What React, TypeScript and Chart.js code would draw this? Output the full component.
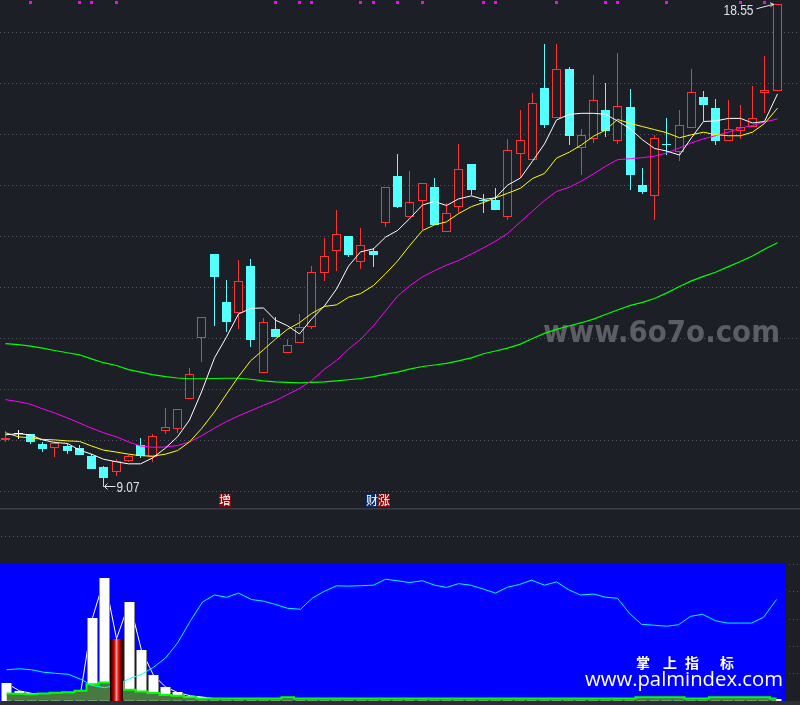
import React, { useEffect, useRef } from 'react';
import { Chart, registerables, LinearScale } from 'chart.js';

// Linear scales that snap pixels so 1px candle borders and wicks stay crisp.
class SnapXScale extends LinearScale {
  getPixelForValue(value: number) {
    const p = super.getPixelForValue(value);
    return Number.isFinite(p) ? Math.floor(p) + 0.5 : p;
  }
}
(SnapXScale as any).id = 'snapX';
(SnapXScale as any).defaults = (LinearScale as any).defaults;

class SnapYScale extends LinearScale {
  getPixelForValue(value: number) {
    const p = super.getPixelForValue(value);
    return Number.isFinite(p) ? Math.round(p) : p;
  }
}
(SnapYScale as any).id = 'snapY';
(SnapYScale as any).defaults = (LinearScale as any).defaults;

Chart.register(...registerables, SnapXScale as any, SnapYScale as any);

// ---------------- price panel (K-line) ----------------
const opens = [9.99, 10.12, 10.12, 9.92, 9.85, 9.88, 9.84, 9.68, 9.47, 9.36, 9.59, 9.90, 9.67, 10.18, 10.21, 10.80, 11.99, 13.65, 12.71, 12.50, 13.41, 11.32, 12.18, 11.71, 11.90, 12.21, 13.27, 13.70, 14.00, 13.49, 13.71, 14.25, 15.18, 14.37, 14.69, 14.96, 14.09, 14.58, 15.42, 14.71, 14.71, 14.38, 15.61, 15.50, 16.91, 16.31, 17.28, 15.72, 15.91, 16.48, 15.87, 16.53, 15.00, 14.79, 15.80, 15.66, 16.12, 16.73, 16.51, 15.86, 16.06, 16.15, 16.80, 16.84];
const highs = [10.17, 10.19, 10.12, 9.95, 9.98, 9.92, 9.90, 9.72, 9.49, 9.63, 9.71, 10.03, 10.12, 10.62, 10.60, 11.41, 12.41, 13.65, 13.14, 13.53, 13.55, 12.39, 12.41, 11.98, 12.47, 13.41, 13.96, 14.51, 14.00, 14.15, 13.76, 14.96, 15.61, 15.28, 15.04, 15.15, 14.64, 15.81, 15.42, 14.82, 14.94, 15.91, 16.48, 16.81, 17.77, 17.78, 17.31, 16.10, 17.16, 17.00, 17.59, 16.89, 15.34, 15.98, 16.32, 16.48, 17.28, 16.85, 16.69, 16.67, 16.57, 16.94, 17.54, 18.55];
const lows = [9.95, 10.01, 9.92, 9.77, 9.67, 9.72, 9.70, 9.43, 9.07, 9.30, 9.57, 9.64, 9.57, 10.12, 10.13, 10.80, 11.52, 12.24, 12.12, 12.17, 11.83, 11.32, 12.01, 11.70, 11.90, 12.17, 13.12, 13.32, 13.58, 13.36, 13.39, 14.17, 14.55, 14.37, 14.12, 14.22, 14.09, 14.46, 14.81, 14.45, 14.51, 14.32, 15.15, 15.50, 16.13, 16.31, 15.79, 15.20, 15.83, 15.95, 15.81, 14.91, 14.83, 14.32, 15.59, 15.48, 16.12, 16.25, 15.79, 15.86, 15.90, 16.15, 16.42, 16.84];
const closes = [10.03, 10.12, 9.95, 9.83, 9.93, 9.78, 9.70, 9.43, 9.26, 9.59, 9.68, 9.68, 10.08, 10.25, 10.60, 11.29, 12.41, 13.20, 12.32, 13.11, 11.97, 12.31, 12.01, 11.86, 12.21, 13.29, 13.60, 14.04, 13.62, 13.82, 13.62, 14.96, 14.58, 14.66, 15.04, 14.22, 14.45, 15.31, 14.91, 14.69, 14.51, 15.69, 15.89, 16.61, 16.18, 17.27, 15.96, 15.98, 16.67, 16.07, 16.55, 15.19, 14.87, 15.92, 15.78, 16.19, 16.82, 16.58, 15.87, 16.10, 16.14, 16.31, 16.86, 18.55];

const ma5 = [10.10, 10.12, 10.10, 10.00, 9.95, 9.93, 9.80, 9.72, 9.62, 9.57, 9.53, 9.53, 9.645, 9.84, 10.06, 10.39, 10.94, 11.61, 12.02, 12.47, 12.58, 12.59, 12.35, 12.24, 12.08, 12.37, 12.63, 12.96, 13.41, 13.69, 13.75, 13.98, 14.11, 14.34, 14.61, 14.68, 14.60, 14.73, 14.79, 14.72, 14.75, 15.00, 15.14, 15.47, 15.81, 16.28, 16.39, 16.41, 16.41, 16.39, 16.26, 16.10, 15.89, 15.72, 15.67, 15.59, 15.93, 16.25, 16.26, 16.31, 16.31, 16.22, 16.25, 16.79];
const ma10 = [10.14, 10.06, 10.04, 10.01, 10.00, 9.98, 9.97, 9.88, 9.80, 9.76, 9.72, 9.69, 9.68, 9.72, 9.79, 9.96, 10.22, 10.55, 10.90, 11.24, 11.55, 11.77, 11.98, 12.17, 12.30, 12.48, 12.62, 12.65, 12.80, 12.87, 13.03, 13.26, 13.51, 13.81, 14.11, 14.22, 14.28, 14.44, 14.58, 14.66, 14.75, 14.84, 14.94, 15.13, 15.23, 15.53, 15.65, 15.79, 15.96, 16.08, 16.29, 16.21, 16.15, 16.09, 16.03, 15.93, 15.99, 16.04, 15.99, 15.97, 15.97, 16.04, 16.21, 16.51];
const ma20 = [10.79, 10.75, 10.70, 10.61, 10.53, 10.43, 10.33, 10.23, 10.14, 10.06, 9.96, 9.88, 9.855, 9.86, 9.89, 9.96, 10.08, 10.23, 10.36, 10.47, 10.57, 10.68, 10.77, 10.89, 11.01, 11.16, 11.39, 11.56, 11.78, 11.97, 12.24, 12.53, 12.82, 13.02, 13.20, 13.32, 13.43, 13.52, 13.65, 13.77, 13.90, 14.05, 14.28, 14.49, 14.70, 14.875, 14.96, 15.08, 15.22, 15.37, 15.50, 15.52, 15.54, 15.57, 15.63, 15.73, 15.83, 15.91, 15.97, 16.04, 16.12, 16.17, 16.24, 16.30];
const ma60 = [11.89, 11.87, 11.84, 11.80, 11.755, 11.71, 11.67, 11.59, 11.515, 11.46, 11.38, 11.33, 11.28, 11.24, 11.215, 11.20, 11.20, 11.205, 11.21, 11.21, 11.19, 11.16, 11.14, 11.13, 11.12, 11.13, 11.14, 11.16, 11.18, 11.205, 11.24, 11.29, 11.33, 11.39, 11.44, 11.47, 11.50, 11.55, 11.61, 11.69, 11.745, 11.80, 11.88, 11.99, 12.09, 12.17, 12.24, 12.30, 12.37, 12.46, 12.55, 12.64, 12.70, 12.775, 12.88, 13.01, 13.12, 13.21, 13.29, 13.40, 13.50, 13.61, 13.74, 13.87];

const priceGridTicks = [9, 10, 11, 12, 13, 14, 15, 16, 17, 18];
const signalDots = [2, 6, 7, 9, 22, 24, 25, 29, 30, 32, 34, 39, 40, 45, 49, 50, 54, 60, 62];
const signalLabels = [
  { index: 18, text: '增', bg: '#7e0c0c' },
  { index: 30, text: '财', bg: '#0b2d66' },
  { index: 31, text: '涨', bg: '#7e0c0c' },
];
const lowMarkIndex = 8;
const highMarkIndex = 63;

// ---------------- lower indicator panel ----------------
const volBars = [12.8, 7.2, 5.4, 4, 3, 3.5, 5, 60.5, 89.4, 45.3, 72.1, 36.7, 18.6, 10.1, 6.0, 3.6, 2.7, 1.5, 1.2, 1, 1, 1, 1, 1, 1, 1, 1, 1, 1, 1, 1, 1, 1, 1, 1, 1, 1, 1, 1, 1, 1, 1, 1, 1, 1, 1, 1, 1, 1, 1, 1, 1, 1, 1, 1, 1, 1, 1, 1, 1, 1, 1, 1, 1];
const redBarIndices = [9];
const cyanLine = [22.6, 23.3, 22.6, 20.8, 20.0, 19.3, 15.7, 11.1, 9.5, 11.4, 16.1, 19.3, 24.4, 31.2, 42.1, 58.4, 72.1, 77.2, 75.5, 78.6, 73.9, 72.7, 70.3, 67.5, 66.8, 75.0, 80.0, 83.9, 83.7, 84.0, 84.4, 88.7, 87.6, 86.3, 87.6, 84.4, 82.7, 85.5, 84.4, 81.5, 78.6, 82.9, 84.9, 88.0, 84.4, 86.8, 81.1, 77.2, 77.9, 75.6, 74.8, 63.8, 55.8, 55.1, 54.4, 55.5, 61.6, 63.1, 58.4, 56.7, 56.7, 56.7, 60.9, 73.9];
const greenArea = [5.35, 5.1, 4.8, 5.35, 5.9, 6.1, 7.2, 12.1, 13.3, 13.2, 8.0, 6.8, 5.6, 4.1, 3.6, 2.5, 1.7, 1.7, 1.7, 1.7, 1.7, 1.7, 1.7, 2.5, 1.7, 1.7, 1.7, 1.7, 1.7, 1.7, 1.7, 1.7, 1.7, 1.7, 1.7, 1.7, 1.7, 1.7, 1.7, 1.7, 1.7, 1.7, 1.7, 1.7, 1.7, 1.7, 1.7, 1.7, 1.7, 1.7, 1.7, 1.7, 2.5, 2.5, 2.5, 2.5, 1.7, 1.7, 2.5, 2.5, 2.5, 2.5, 2.5, 1.7];
const lowerGridStep = 20;

// ---------------- styling ----------------
const BG = '#1d1f26';
const UP = '#ff3232';
const DOWN = '#54ffff';
const FLAT = '#ffffff';
const GRID = '#50545c';
const X_MIN = -0.49;
const X_MAX = 64.87;
const PRICE_MIN = 8.663;
const PRICE_MAX = 18.634;
const LOW_MIN = -2.4;
const LOW_MAX = 140;
const PANEL_TOP = 100;

const indices = closes.map((_, i) => i);
const isFlat = (i: number) => opens[i] === closes[i];
const candleColor = (i: number) => (isFlat(i) ? FLAT : closes[i] > opens[i] ? UP : DOWN);

function fitText(ctx: CanvasRenderingContext2D, text: string, x: number, y: number, width: number, font: string, color: string, align: 'left' | 'right' = 'left') {
  ctx.save();
  ctx.font = font;
  ctx.textBaseline = 'alphabetic';
  ctx.textAlign = 'left';
  const w = ctx.measureText(text).width || 1;
  const sx = width / w;
  ctx.translate(align === 'left' ? x : x - width, y);
  ctx.scale(sx, 1);
  ctx.fillStyle = color;
  ctx.fillText(text, 0, 0);
  ctx.restore();
}

const lineDs = (arr: number[], color: string, order: number, width = 1) => ({
  type: 'line',
  data: arr.map((y, i) => ({ x: i, y })),
  yAxisID: 'yl',
  borderColor: color,
  borderWidth: width,
  pointRadius: 0,
  tension: 0,
  fill: false,
  order,
});

const topPlugin = {
  id: 'topDecor',
  beforeDatasetsDraw(chart: any) {
    const ctx = chart.ctx as CanvasRenderingContext2D;
    fitText(ctx, 'www.6o7o.com', 543, 342, 237, 'bold 30px "DejaVu Sans"', '#5d5e64');
  },
  afterDatasetsDraw(chart: any) {
    const ctx = chart.ctx as CanvasRenderingContext2D;
    const xs = chart.scales.x;
    const ys = chart.scales.yl;
    const area = chart.chartArea;
    ctx.save();
    ctx.fillStyle = '#ff00ff';
    signalDots.forEach((i) => {
      const px = Math.floor(xs.getPixelForValue(i));
      ctx.fillRect(px - 1, 1, 3, 3);
    });
    ctx.font = '12px "Noto Sans CJK SC"';
    ctx.textAlign = 'center';
    ctx.textBaseline = 'middle';
    signalLabels.forEach((l) => {
      const px = Math.floor(xs.getPixelForValue(l.index)) - 1;
      ctx.fillStyle = l.bg;
      ctx.fillRect(px - 6, area.bottom - 14, 12, 13);
      ctx.fillStyle = '#ffffff';
      ctx.fillText(l.text, px, area.bottom - 7.5);
    });
    const lx = xs.getPixelForValue(lowMarkIndex);
    const ly = Math.round(ys.getPixelForValue(lows[lowMarkIndex])) - 0.5;
    ctx.strokeStyle = '#e4e8ee';
    ctx.lineWidth = 1;
    ctx.beginPath();
    ctx.moveTo(lx + 1, ly);
    ctx.lineTo(lx + 12, ly);
    ctx.moveTo(lx + 4, ly - 3);
    ctx.lineTo(lx + 1, ly);
    ctx.lineTo(lx + 4, ly + 3);
    ctx.stroke();
    fitText(ctx, lows[lowMarkIndex].toFixed(2), lx + 13, ly + 5, 23, '14px "Liberation Sans"', '#dde3ea');
    const hx = xs.getPixelForValue(highMarkIndex);
    const hy = ys.getPixelForValue(highs[highMarkIndex]);
    ctx.beginPath();
    ctx.moveTo(hx - 21, hy + 4.5);
    ctx.lineTo(hx - 4, hy);
    ctx.moveTo(hx - 7.5, hy - 1.5);
    ctx.lineTo(hx - 4, hy);
    ctx.lineTo(hx - 7, hy + 2.5);
    ctx.stroke();
    fitText(ctx, highs[highMarkIndex].toFixed(2), hx - 24, hy + 11, 30, '14px "Liberation Sans"', '#dde3ea', 'right');
    ctx.restore();
  },
};

const lowerPlugin = {
  id: 'lowerDecor',
  beforeDatasetsDraw(chart: any) {
    const ctx = chart.ctx as CanvasRenderingContext2D;
    const xs = chart.scales.x;
    const ys = chart.scales.y;
    const y0 = Math.round(ys.getPixelForValue(0));
    const yTop = Math.round(ys.getPixelForValue(PANEL_TOP));
    const right = Math.round(xs.getPixelForValue(closes.length - 1) + 9);
    ctx.save();
    ctx.fillStyle = '#0000ff';
    ctx.fillRect(0, yTop, right, y0 - yTop);
    ctx.fillStyle = '#2c2f36';
    ctx.fillRect(0, y0, chart.width, chart.height - y0);
    ctx.fillStyle = '#3a3e47';
    ctx.fillRect(0, 0, chart.width, 1.5);
    ctx.restore();
  },
  afterDatasetsDraw(chart: any) {
    const ctx = chart.ctx as CanvasRenderingContext2D;
    ctx.save();
    ctx.fillStyle = '#ffffff';
    ctx.font = 'bold 14px "Noto Sans CJK SC"';
    ctx.textAlign = 'center';
    ctx.textBaseline = 'middle';
    const chars = ['掌', '上', '指', '标'];
    const cx = [643, 670, 692, 727];
    chars.forEach((c, k) => ctx.fillText(c, cx[k], 155));
    ctx.restore();
    fitText(ctx, 'www.palmindex.com', 585, 178, 198, '20px "Open Sans"', '#ffffff');
  },
};

export default function App() {
  const topRef = useRef<HTMLCanvasElement>(null);
  const lowRef = useRef<HTMLCanvasElement>(null);

  useEffect(() => {
    document.body.style.margin = '0';
    document.body.style.background = BG;

    const wicks = indices.map((i) => ({ x: i, y: [lows[i], highs[i]] }));
    const bodies = indices.map((i) => ({
      x: i,
      y: isFlat(i) ? [opens[i] - 0.01, opens[i] + 0.01] : [opens[i], closes[i]],
    }));

    const top = new Chart(topRef.current as HTMLCanvasElement, {
      type: 'bar',
      data: {
        datasets: [
          lineDs(ma5, '#ffffff', 1),
          lineDs(ma10, '#ffff00', 2),
          lineDs(ma20, '#ff00ff', 3),
          lineDs(ma60, '#00ff00', 4, 1.2),
          {
            type: 'bar',
            data: bodies,
            yAxisID: 'y',
            grouped: false,
            barThickness: 9,
            inflateAmount: 0,
            borderSkipped: false,
            backgroundColor: (c: any) => (closes[c.dataIndex] > opens[c.dataIndex] ? BG : candleColor(c.dataIndex)),
            borderColor: (c: any) => candleColor(c.dataIndex),
            borderWidth: (c: any) => (closes[c.dataIndex] > opens[c.dataIndex] ? 1 : 0),
            order: 5,
          },
          {
            type: 'bar',
            data: wicks,
            yAxisID: 'y',
            grouped: false,
            barThickness: 1,
            inflateAmount: 0,
            borderWidth: 0,
            backgroundColor: (c: any) => candleColor(c.dataIndex),
            order: 6,
          },
        ] as any,
      },
      options: {
        responsive: false,
        animation: false,
        events: [],
        layout: { padding: 0 },
        plugins: { legend: { display: false }, tooltip: { enabled: false } },
        scales: {
          x: { type: 'snapX', min: X_MIN, max: X_MAX, display: false, offset: false },
          y: {
            type: 'snapY',
            min: PRICE_MIN,
            max: PRICE_MAX,
            afterBuildTicks: (s: any) => {
              s.ticks = priceGridTicks.map((v) => ({ value: v }));
            },
            ticks: { display: false },
            grid: { color: GRID, drawTicks: false, lineWidth: 1 },
            border: { display: false, dash: [1, 3] },
          },
          yl: { type: 'linear', min: PRICE_MIN, max: PRICE_MAX, display: false },
        },
      } as any,
      plugins: [topPlugin],
    });

    const whiteBars = volBars.map((v, i) => ({ x: i, y: redBarIndices.includes(i) ? null : v }));
    const redBars = redBarIndices.map((i) => ({ x: i, y: volBars[i] }));
    const lowerTicks: number[] = [];
    for (let v = lowerGridStep; v < LOW_MAX; v += lowerGridStep) lowerTicks.push(v);

    const low = new Chart(lowRef.current as HTMLCanvasElement, {
      type: 'bar',
      data: {
        datasets: [
          {
            type: 'bar',
            data: redBars,
            yAxisID: 'y',
            grouped: false,
            barThickness: 13,
            inflateAmount: 0,
            borderWidth: 0,
            backgroundColor: (c: any) => {
              const chart = c.chart;
              const xs = chart.scales && chart.scales.x;
              if (!xs || !c.raw) return '#e01010';
              const xc = xs.getPixelForValue(c.raw.x);
              if (!Number.isFinite(xc)) return '#e01010';
              const g = chart.ctx.createLinearGradient(xc - 6.5, 0, xc + 6.5, 0);
              g.addColorStop(0, '#150000');
              g.addColorStop(0.18, '#6a0000');
              g.addColorStop(0.36, '#e01010');
              g.addColorStop(0.5, '#ff9a9a');
              g.addColorStop(0.62, '#ff2020');
              g.addColorStop(0.82, '#7a0000');
              g.addColorStop(1, '#150000');
              return g;
            },
            order: 1,
          },
          lineDs(cyanLine, '#00ffff', 2),
          {
            type: 'line',
            data: greenArea.map((y, i) => ({ x: i, y })),
            yAxisID: 'yl',
            stepped: 'middle',
            fill: 'origin',
            backgroundColor: '#487a40',
            borderColor: '#00ff00',
            borderWidth: 2,
            pointRadius: 0,
            order: 3,
          },
          {
            type: 'bar',
            data: whiteBars,
            yAxisID: 'y',
            grouped: false,
            barThickness: 11,
            inflateAmount: 0,
            backgroundColor: '#ffffff',
            borderColor: '#8a8a8a',
            borderWidth: { left: 1, right: 1, top: 0, bottom: 0 },
            borderSkipped: false,
            order: 4,
          },
          lineDs(volBars, '#ffffff', 5),
        ] as any,
      },
      options: {
        responsive: false,
        animation: false,
        events: [],
        layout: { padding: 0 },
        plugins: { legend: { display: false }, tooltip: { enabled: false } },
        scales: {
          x: { type: 'snapX', min: X_MIN, max: X_MAX, display: false, offset: false },
          y: {
            type: 'snapY',
            min: LOW_MIN,
            max: LOW_MAX,
            afterBuildTicks: (s: any) => {
              s.ticks = lowerTicks.map((v) => ({ value: v }));
            },
            ticks: { display: false },
            grid: { color: GRID, drawTicks: false, lineWidth: 1 },
            border: { display: false, dash: [1, 3] },
          },
          yl: { type: 'linear', min: LOW_MIN, max: LOW_MAX, display: false },
        },
      } as any,
      plugins: [lowerPlugin],
    });
    low.update();

    return () => {
      top.destroy();
      low.destroy();
    };
  }, []);

  return (
    <div style={{ position: 'fixed', left: 0, top: 0, width: 800, height: 705, background: BG, overflow: 'hidden' }}>
      <canvas ref={topRef} width={800} height={508} style={{ position: 'absolute', left: 0, top: 0, width: 800, height: 508 }} />
      <canvas ref={lowRef} width={800} height={197} style={{ position: 'absolute', left: 0, top: 508, width: 800, height: 197 }} />
    </div>
  );
}
